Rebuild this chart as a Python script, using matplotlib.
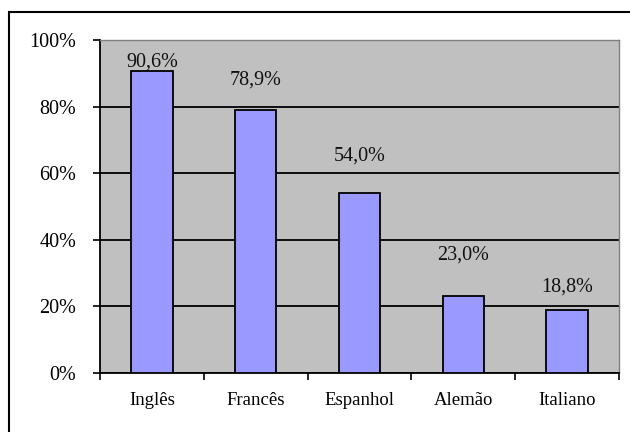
import matplotlib.pyplot as plt
import numpy as np
from matplotlib.patches import Rectangle
from matplotlib.ticker import FuncFormatter

# share of respondents per language
languages = ["Inglês", "Francês", "Espanhol", "Alemão", "Italiano"]
shares = [90.6, 78.9, 54.0, 23.0, 18.8]
# vertical gap (points) between bar top and the centre of its value label
label_gaps = [7, 22, 27, 30, 17]

plt.rcParams["font.family"] = ["Liberation Serif", "DejaVu Serif"]

fig = plt.figure(figsize=(6.3, 4.32), dpi=100)
ax = fig.add_axes([100 / 630, 1 - 373 / 432, 519 / 630, 333 / 432])

x = np.arange(len(languages))
ax.bar(x, shares, width=0.4, color="#9999FF", edgecolor="black",
       linewidth=1.3, zorder=3)

for xi, v, gap in zip(x, shares, label_gaps):
    ax.annotate(f"{v:.1f}%".replace(".", ","), (xi, v), xytext=(0, gap),
                textcoords="offset points", ha="center", va="center",
                fontsize=14.5, color="#111111")

ax.set_facecolor("#C0C0C0")
ax.set_xlim(-0.5, len(languages) - 0.5)
ax.set_ylim(0, 100)
ax.set_yticks(np.arange(0, 101, 20))
ax.yaxis.set_major_formatter(FuncFormatter(lambda v, _: f"{v:.0f}%"))
ax.yaxis.grid(True, color="black", linewidth=1.3, zorder=1)
ax.set_axisbelow(True)

ax.set_xticks(x)
ax.set_xticklabels(languages, fontsize=13.5)
ax.set_xticks(np.arange(-0.5, len(languages)), minor=True)
ax.tick_params(axis="x", which="major", length=0, pad=14)
ax.tick_params(axis="x", which="minor", length=5, width=1.2, direction="out")
ax.tick_params(axis="y", length=5, width=1.2, labelsize=14.5, pad=12)

ax.spines["left"].set_linewidth(1.3)
ax.spines["bottom"].set_linewidth(1.3)
ax.spines["top"].set_color("#808080")
ax.spines["right"].set_color("#808080")
ax.spines["top"].set_linewidth(1.0)
ax.spines["right"].set_linewidth(1.0)

# outer chart frame, running off the right and bottom edges
fig.patches.append(Rectangle((9 / 630, -0.05), 1.0, 1 - 12 / 432 + 0.05,
                             transform=fig.transFigure, fill=False,
                             edgecolor="black", linewidth=1.5))

fig.savefig("out.png", dpi=100)
